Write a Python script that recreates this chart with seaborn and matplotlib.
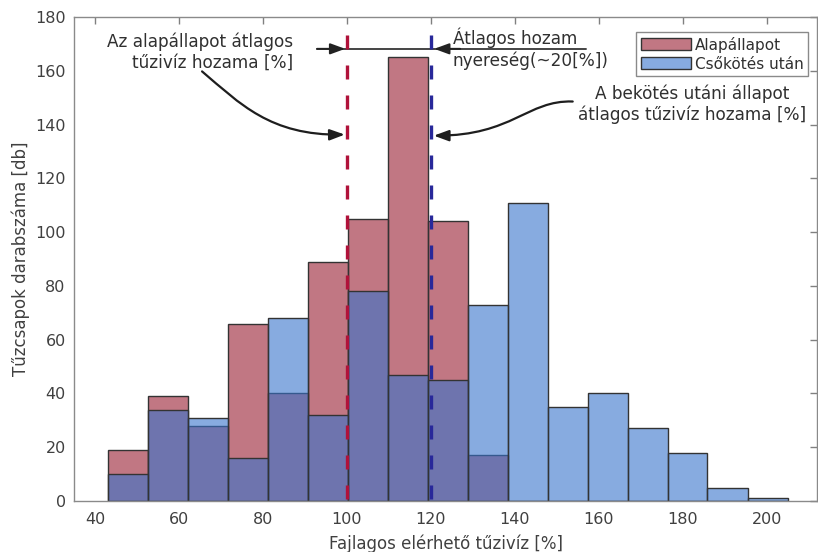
import matplotlib
matplotlib.use("Agg")
import numpy as np
import pandas as pd
import seaborn as sns
import matplotlib.pyplot as plt
from matplotlib.patches import FancyArrowPatch
from matplotlib.path import Path

# ---- data ----
bin_edges = [43.1, 52.6, 62.1, 71.7, 81.2, 90.7, 100.2, 109.8, 119.3, 128.8,
             138.3, 147.9, 157.4, 166.9, 176.4, 185.9, 195.5, 205.0]
base_counts = [19, 39, 28, 66, 40, 89, 105, 165, 104, 17]
after_counts = [10, 34, 31, 16, 68, 32, 78, 47, 45, 73, 111, 35, 40, 27, 18, 5, 1]
series_labels = ["Alapállapot", "Csőkötés után"]
mean_base = 100
mean_after = 120
x_ticks = [40, 60, 80, 100, 120, 140, 160, 180, 200]
y_ticks = [0, 20, 40, 60, 80, 100, 120, 140, 160, 180]
x_label = "Fajlagos elérhető tűzivíz [%]"
y_label = "Tűzcsapok darabszáma [db]"

sns.set_style("white")
plt.rcParams["font.family"] = ["DejaVu Sans"]

edges = np.array(bin_edges)
centers = (edges[:-1] + edges[1:]) / 2
df_base = pd.DataFrame({"x": centers[:len(base_counts)], "w": base_counts})
df_after = pd.DataFrame({"x": centers[:len(after_counts)], "w": after_counts})

fig = plt.figure(figsize=(8.18, 5.52), dpi=100)
ax = fig.add_axes([0.0905, 0.0924, 0.9083, 0.8766])

red_base = (0.60, 0.11, 0.19)
blue_base = (0.22, 0.45, 0.80)
edge_c = "#333333"

sns.histplot(data=df_base, x="x", weights="w", bins=bin_edges, color=red_base,
             alpha=0.6, edgecolor=edge_c, linewidth=1.0, label=series_labels[0], ax=ax)
sns.histplot(data=df_after, x="x", weights="w", bins=bin_edges, color=blue_base,
             alpha=0.6, edgecolor=edge_c, linewidth=1.0, label=series_labels[1], ax=ax)

ax.set_xlim(35, 212)
ax.set_ylim(0, 180)
ax.set_xticks(x_ticks)
ax.set_yticks(y_ticks)
ax.set_xlabel(x_label, fontsize=12, color="#404040", labelpad=5)
ax.set_ylabel(y_label, fontsize=12, color="#404040", labelpad=4)
ax.tick_params(direction="in", top=True, right=True, length=5, width=1,
               color="#808080", labelcolor="#404040", labelsize=11.5)
ax.tick_params(axis="x", pad=8)
ax.tick_params(axis="y", pad=6)
for s in ax.spines.values():
    s.set_color("#8a8a8a")
    s.set_linewidth(1.0)

# horizontal gain arrow
txt_c = "#303030"
ax.plot([92.9, 157.0], [168.2, 168.2], color="#444444", lw=1.4, zorder=4)
arr = dict(arrowstyle="-|>,head_length=0.6,head_width=0.22", color="#222222",
           lw=1.4, mutation_scale=15, shrinkA=0, shrinkB=0)
ax.annotate("", xy=(99.6, 168.2), xytext=(92.9, 168.2), arrowprops=arr, zorder=5)
ax.annotate("", xy=(120.8, 168.2), xytext=(127.0, 168.2), arrowprops=arr, zorder=5)

# mean lines (drawn top-down so the dash phase starts at the top)
ax.plot([mean_base, mean_base], [173.3, 0], color="#b0123a", lw=2.4,
        dashes=(4.2, 4.8), zorder=6)
ax.plot([mean_after, mean_after], [173.3, 0], color="#28289a", lw=2.4,
        dashes=(4.2, 4.8), zorder=6)

# texts
ax.text(87.1, 166.9, "Az alapállapot átlagos\ntűzivíz hozama [%]", ha="right",
        va="center", multialignment="right", fontsize=12.2, color=txt_c)
ax.text(125.2, 168.2, "Átlagos hozam\nnyereség(~20[%])", ha="left", va="center",
        fontsize=12.2, color=txt_c)
ax.text(182.2, 147.5, "A bekötés utáni állapot\nátlagos tűzivíz hozama [%]",
        ha="center", va="center", multialignment="center", fontsize=12.2,
        color=txt_c, clip_on=False)

# curved arrows
curve_arrow = "-|>,head_length=0.6,head_width=0.22"
p1 = Path([(65.5, 159.8), (74.5, 147.9), (81.7, 135.9), (99.5, 136.3)],
          [Path.MOVETO, Path.CURVE4, Path.CURVE4, Path.CURVE4])
ax.add_patch(FancyArrowPatch(path=p1, arrowstyle=curve_arrow, mutation_scale=15,
                             color="#1e1e1e", lw=1.6, zorder=7))
p2 = Path([(153.8, 148.6), (143.0, 149.2), (139.5, 135.9), (120.7, 135.9)],
          [Path.MOVETO, Path.CURVE4, Path.CURVE4, Path.CURVE4])
ax.add_patch(FancyArrowPatch(path=p2, arrowstyle=curve_arrow, mutation_scale=15,
                             color="#1e1e1e", lw=1.6, zorder=7))

leg = ax.legend(loc="upper right", bbox_to_anchor=(0.988, 0.969), borderaxespad=0,
                fancybox=False, framealpha=1, edgecolor="#8a8a8a", fontsize=11,
                handlelength=3.3, handleheight=0.85, handletextpad=0.25,
                borderpad=0.3, labelspacing=0.25)
leg.get_frame().set_linewidth(1.0)
for t in leg.get_texts():
    t.set_color("#303030")

fig.savefig("out.png", dpi=100)
